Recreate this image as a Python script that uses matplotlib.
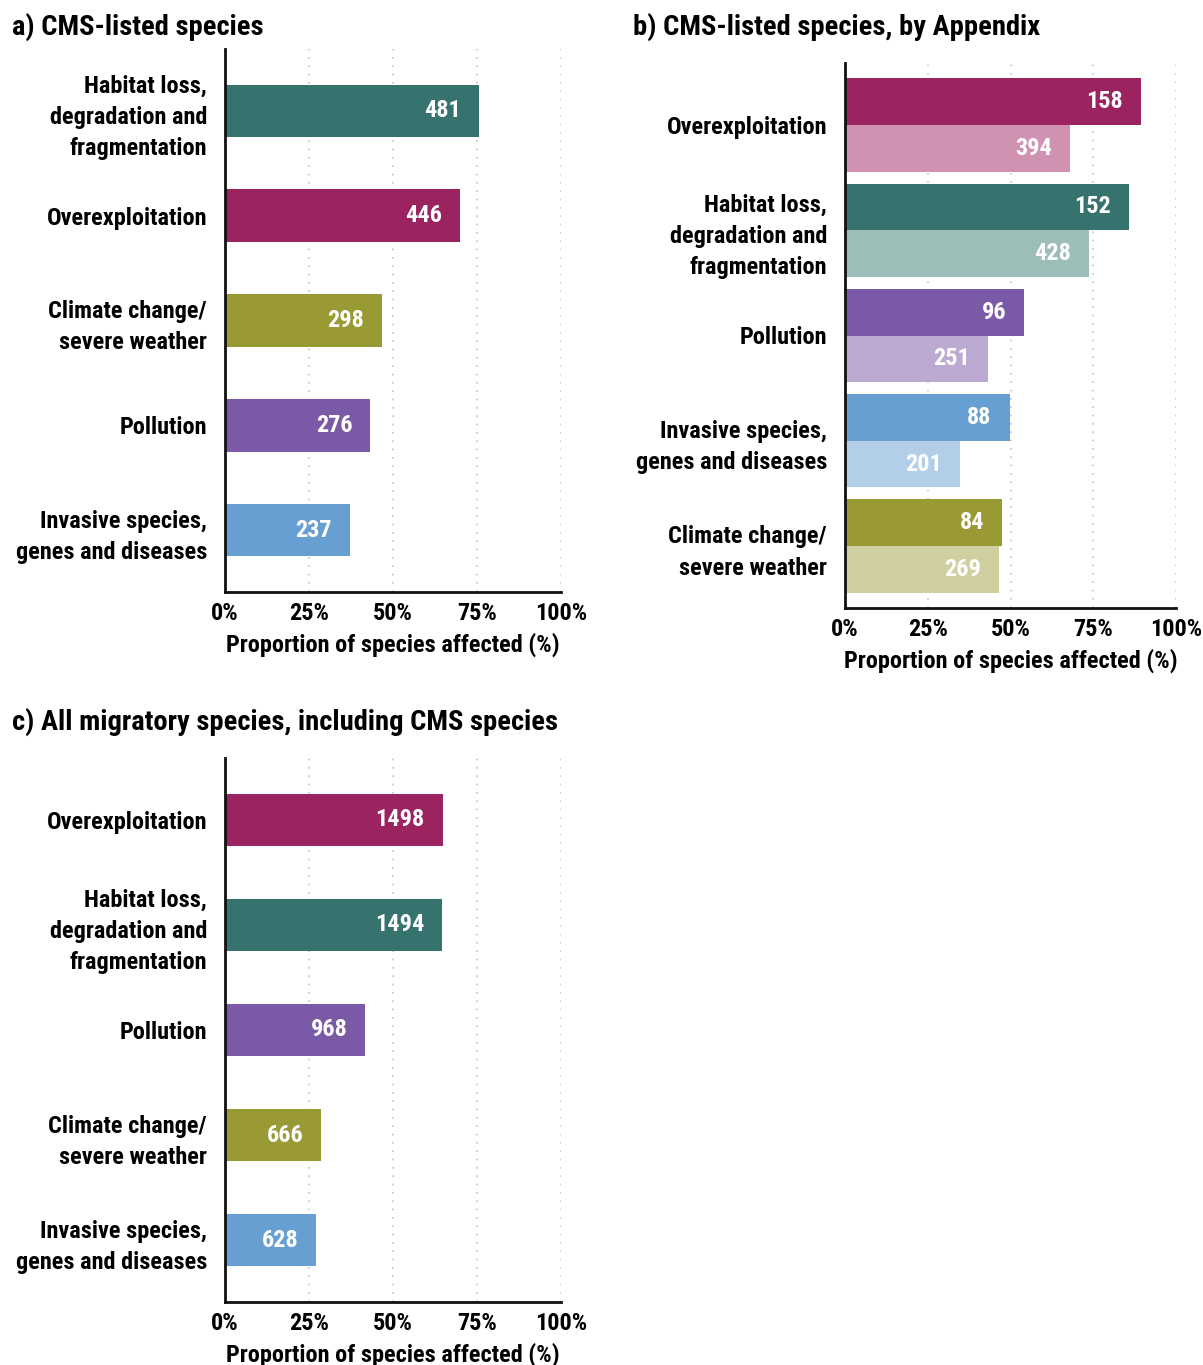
import matplotlib
matplotlib.use("Agg")
import matplotlib.pyplot as plt
from matplotlib import font_manager

# pick a narrow bold face if one is installed
fonts = font_manager.fontManager.ttflist
names = {f.name for f in fonts}
family = 'DejaVu Sans'
stretch = 'normal'
for cand in ['Liberation Sans Narrow', 'Roboto Condensed', 'Open Sans Condensed', 'Arial Narrow']:
    if cand in names:
        family = cand
        break
else:
    if any(f.name == 'DejaVu Sans' and f.stretch == 'condensed' for f in fonts):
        stretch = 'condensed'

plt.rcParams['font.family'] = [family, 'DejaVu Sans']
plt.rcParams['font.stretch'] = stretch
plt.rcParams['font.weight'] = 'bold'
plt.rcParams['axes.labelweight'] = 'bold'

# size factor so the text takes about the same width as the reference
k = 1.0 if family != 'DejaVu Sans' else (0.8 if stretch == 'condensed' else 0.7)

HAB = "Habitat loss,\ndegradation and\nfragmentation"
OVR = "Overexploitation"
CLI = "Climate change/\nsevere weather"
POL = "Pollution"
INV = "Invasive species,\ngenes and diseases"

# panel a - CMS-listed species
a_cats = [HAB, OVR, CLI, POL, INV]
a_counts = [481, 446, 298, 276, 237]
a_pct = [75.5, 70.0, 46.8, 43.3, 37.2]

# panel b - by Appendix (I dark, II light)
b_cats = [OVR, HAB, POL, INV, CLI]
b1_counts = [158, 152, 96, 88, 84]
b1_pct = [89.3, 85.9, 54.2, 49.7, 47.5]
b2_counts = [394, 428, 251, 201, 269]
b2_pct = [67.9, 73.8, 43.3, 34.7, 46.4]

# panel c - all migratory species
c_cats = [OVR, HAB, POL, CLI, INV]
c_counts = [1498, 1494, 968, 666, 628]
c_pct = [64.8, 64.6, 41.8, 28.7, 27.2]

ticks = [0, 25, 50, 75, 100]
tick_labels = ["0%", "25%", "50%", "75%", "100%"]

dark = {HAB: "#36736f", OVR: "#9b2360", CLI: "#999a33", POL: "#7a59a6", INV: "#689fd3"}
light = {HAB: "#9dbdb9", OVR: "#cf92b3", CLI: "#cfcf9f", POL: "#bcaad3", INV: "#b2cee9"}

W, H = 1203, 1365
fig = plt.figure(figsize=(W / 100, H / 100), dpi=100)


def make_ax(x0, top, bottom, width=336):
    ax = fig.add_axes([x0 / W, 1 - bottom / H, width / W, (bottom - top) / H])
    ax.set_xlim(0, 100)
    ax.set_ylim(4.59, -0.59)
    ax.set_xticks(ticks)
    ax.set_xticklabels(tick_labels, fontsize=17.5 * k)
    ax.tick_params(axis='both', length=0)
    ax.tick_params(axis='x', pad=7)
    ax.tick_params(axis='y', pad=13)
    for s in ['top', 'right']:
        ax.spines[s].set_visible(False)
    for s in ['left', 'bottom']:
        ax.spines[s].set_linewidth(2)
        ax.spines[s].set_color('#111111')
    for t in ticks[1:]:
        ax.axvline(t, color='#c4c4c4', lw=1.2, ls=(0, (1, 4)), zorder=0)
    ax.set_xlabel("Proportion of species affected (%)", fontsize=17.5 * k, labelpad=6)
    return ax


def label_bars(ax, bars, counts):
    for b, n in zip(bars, counts):
        ax.annotate(str(n), (b.get_width(), b.get_y() + b.get_height() / 2),
                    xytext=(-13, 0), textcoords='offset points',
                    ha='right', va='center', color='white', fontsize=17.5 * k, fontweight='bold')


# a
axa = make_ax(225, 49, 592)
ya = list(range(len(a_cats)))
bars = axa.barh(ya, a_pct, height=0.5, color=[dark[c] for c in a_cats], zorder=2)
label_bars(axa, bars, a_counts)
axa.set_yticks(ya)
axa.set_yticklabels(a_cats, fontsize=17.5 * k, linespacing=1.45, ha='right')

# b
axb = make_ax(845, 63, 608, width=331)
yb = list(range(len(b_cats)))
hb = 0.443
bars1 = axb.barh([y - hb / 2 for y in yb], b1_pct, height=hb,
                 color=[dark[c] for c in b_cats], zorder=2)
bars2 = axb.barh([y + hb / 2 for y in yb], b2_pct, height=hb,
                 color=[light[c] for c in b_cats], zorder=2)
label_bars(axb, bars1, b1_counts)
label_bars(axb, bars2, b2_counts)
axb.set_yticks(yb)
axb.set_yticklabels(b_cats, fontsize=17.5 * k, linespacing=1.45, ha='right')

# c
axc = make_ax(225, 758, 1302)
yc = list(range(len(c_cats)))
bars = axc.barh(yc, c_pct, height=0.5, color=[dark[c] for c in c_cats], zorder=2)
label_bars(axc, bars, c_counts)
axc.set_yticks(yc)
axc.set_yticklabels(c_cats, fontsize=17.5 * k, linespacing=1.45, ha='right')

fig.text(12 / W, 1 - 27 / H, "a) CMS-listed species", fontsize=20.5 * k, va='center', ha='left')
fig.text(633 / W, 1 - 27 / H, "b) CMS-listed species, by Appendix", fontsize=20.5 * k, va='center', ha='left')
fig.text(12 / W, 1 - 722 / H, "c) All migratory species, including CMS species", fontsize=20.5 * k, va='center', ha='left')

fig.savefig("out.png", dpi=100, facecolor='white')
